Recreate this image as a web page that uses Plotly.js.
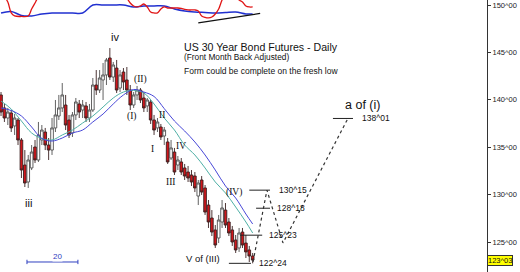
<!DOCTYPE html>
<html>
<head>
<meta charset="utf-8">
<script src="https://cdn.plot.ly/plotly-3.0.1.min.js"></script>
<style>
  html, body { margin: 0; padding: 0; background: #fff; }
  #chart { width: 520px; height: 272px; }
</style>
</head>
<body>
<div id="chart"></div>
<script>
// Daily bars (session index 0..74), prices in points
const openPx = [140.51,139.14,138.08,138.61,137.24,137.87,135.76,133.12,131.33,132.81,
  135.02,133.65,135.76,136.60,135.23,134.70,137.03,138.29,139.14,139.45,
  137.87,136.50,138.40,139.56,138.92,139.35,138.08,138.92,141.56,141.03,
  142.09,142.62,144.41,142.40,143.35,141.24,142.93,142.09,141.03,139.45,
  140.51,141.03,140.19,139.35,139.77,137.87,137.03,137.13,136.18,135.55,
  133.86,134.49,133.12,133.44,132.81,132.38,132.07,131.96,129.85,131.54,
  130.70,128.90,127.53,126.27,125.42,127.11,128.37,127.11,126.27,125.21,
  124.37,126.05,124.89,124.16,123.52];
const highPx = [140.82,139.56,139.14,138.92,138.50,138.08,135.97,134.70,134.18,135.23,
  135.76,137.66,137.34,137.03,135.97,138.08,139.98,140.51,141.77,140.51,
  138.40,138.71,140.19,139.98,139.98,139.77,139.56,142.30,143.14,143.14,
  143.88,144.41,145.46,143.99,144.20,143.14,143.35,143.46,141.56,140.82,
  141.46,141.24,140.82,140.19,139.98,138.40,138.08,137.45,137.13,135.97,
  135.76,134.92,134.07,133.86,133.23,133.02,132.59,132.38,131.54,131.96,
  131.01,129.43,128.37,126.79,127.85,129.43,129.11,127.53,126.69,125.74,
  126.48,126.48,125.74,124.58,123.84];
const lowPx = [138.29,137.66,137.34,136.60,136.29,135.23,131.75,130.80,130.70,132.59,
  133.33,133.44,135.23,134.70,133.65,134.18,136.60,137.87,138.71,136.81,
  135.97,136.08,137.87,138.08,138.08,137.66,137.66,138.71,140.51,140.72,
  139.98,141.56,142.09,141.88,140.72,140.82,141.03,140.51,138.92,139.14,
  139.98,139.66,138.71,138.71,137.45,136.29,136.60,135.76,135.23,133.23,
  133.65,132.07,132.59,132.07,131.54,131.33,130.91,130.27,128.90,129.96,
  127.85,126.48,125.63,124.37,124.89,126.48,126.48,125.63,124.58,123.84,
  123.95,124.37,123.31,122.89,122.75];
const closePx = [138.71,138.08,138.71,137.03,138.08,135.76,132.59,131.22,133.65,134.49,
  133.65,136.29,136.81,135.23,134.70,137.03,138.40,139.14,140.51,137.34,
  136.29,138.40,139.77,138.71,139.45,138.08,138.92,141.56,141.03,142.30,
  142.62,144.20,142.40,143.67,141.03,142.62,141.88,141.03,139.45,140.51,
  141.03,139.98,139.14,139.98,137.87,136.81,137.66,136.08,136.81,133.44,
  134.92,132.38,133.65,132.38,131.96,131.75,131.33,130.70,131.22,130.27,
  128.16,127.11,126.05,124.68,127.32,128.59,126.79,125.95,125.00,124.16,
  125.95,124.68,123.95,123.52,123.09375];

// Moving averages, sampled every third session
const maIdx = [0,3,6,9,12,15,18,21,24,27,30,33,36,39,42,45,48,51,54,57,60,63,66,69,72,74];
const maFast = [139.87,139.03,137.76,136.50,135.92,135.76,136.29,136.81,137.55,138.29,139.24,140.19,140.82,140.98,140.72,139.56,138.08,136.81,135.23,134.18,132.81,131.33,130.17,128.69,127.11,125.95];
const maSlow = [139.14,138.87,138.29,137.13,135.92,135.65,135.97,136.50,136.81,137.66,138.50,139.56,140.51,141.09,140.82,140.35,139.07,137.76,136.71,135.55,134.18,132.59,130.91,129.64,127.95,126.90];

// Oscillator pane (0..100 scale)
const oscBlue = [56.7,61.7,48.3,46.7,53.3,56.7,56.7,56.7,56.7,83.3,83.3,83.3,83.3,76.7,80,80,80,70,63.3,60,58.3,56.7,58.3,60,53.3,53.3];
const oscRedIdx = [0,2,3,4,6,8,9,10,11,14,20,26,32,36,37,38,39,40,41,42,43,44,45,46,47,48,49,50,51,52,53,54,55,56,57,58,59,60,61,62,63,64,65,66,67,68,69,70,71,72,73,74];
const oscRed = [130,93,56.7,46.7,45,46.7,70,90,110,140,150,145,140,125,107,90,80,76.7,80,86.7,76.7,60,56.7,56.7,70,76.7,73.3,73.3,73.3,73.3,71.7,68.3,66.7,66.7,66.7,63.3,46.7,41.7,40,43.3,53.3,70,100,117,117,117,110,100,93,80,76.7,76.7];
const oscTrendIdx = [58, 76.2];
const oscTrend = [23.3, 55];

// Price targets (decimal points) and the segments they are drawn over
const levelVals = [130.46875, 128.5625, 125.71875, 122.75, 138.03125];
const levelFrom = [73, 75, 70.3, 67, 97.6];
const levelTo = [79.1, 79.1, 76.8, 73.5, 103.5];
const levelLabelX = [81.2, 80.6, 78.2, 75.3, 105.6];

// Projected path
const pathIdx = [74.1, 78.2, 82.9, 102];
const pathPx = [122.9, 130.46875, 124.9, 138.03125];

// Axis ticks
const tickVals = [125, 130, 135, 140, 145, 150];

// Wave labels
const waveText = ['iv', '(II)', '(I)', 'II', 'iii', 'I', 'IV', 'III', '(IV)', 'V of (III)', 'a of (i)'];
const waveIdx = [33.5, 40.9, 38.5, 47.4, 8.2, 44.4, 52.9, 50, 68.5, 59.4, 106.2];
const wavePx = [146.62, 142.19, 138.29, 138.40, 129.11, 134.81, 135.13, 131.33, 130.27, 123.21, 139.45];
const waveSize = [11, 9.5, 9.5, 9.5, 11, 9.5, 9.5, 9.5, 9.5, 9.5, 12.5];
const waveSerif = [false, true, true, true, false, true, true, true, true, false, false];

function fmt32(v) {
  const whole = Math.floor(v + 1e-9);
  let t = Math.round((v - whole) * 32);
  return whole + '^' + String(t).padStart(2, '0');
}

const idx = closePx.map((_, i) => i);
const sansFont = 'Liberation Sans, Arial, sans-serif';
const serifFont = 'Liberation Serif, Times New Roman, serif';

const traces = [];

traces.push({
  type: 'candlestick', x: idx, open: openPx, high: highPx, low: lowPx, close: closePx,
  increasing: { line: { color: '#505050', width: 0.9 }, fillcolor: '#ffffff' },
  decreasing: { line: { color: '#3a2020', width: 0.9 }, fillcolor: '#d0161b' },
  whiskerwidth: 0, hoverinfo: 'skip', showlegend: false
});

traces.push({ type: 'scatter', mode: 'lines', x: maIdx, y: maFast,
  line: { color: '#4fb0a6', width: 1, shape: 'spline' }, hoverinfo: 'skip', showlegend: false });
traces.push({ type: 'scatter', mode: 'lines', x: maIdx, y: maSlow,
  line: { color: '#4848d8', width: 1, shape: 'spline' }, hoverinfo: 'skip', showlegend: false });

levelVals.forEach((v, k) => {
  traces.push({ type: 'scatter', mode: 'lines', x: [levelFrom[k], levelTo[k]], y: [v, v],
    line: { color: '#222', width: 1 }, hoverinfo: 'skip', showlegend: false });
});

traces.push({ type: 'scatter', mode: 'lines', x: pathIdx, y: pathPx,
  line: { color: '#333', width: 1.2, dash: 'dot' }, hoverinfo: 'skip', showlegend: false });

traces.push({ type: 'scatter', mode: 'lines', x: maIdx, y: oscBlue, yaxis: 'y2',
  line: { color: '#2030d0', width: 1.5, shape: 'spline' }, hoverinfo: 'skip', showlegend: false });
traces.push({ type: 'scatter', mode: 'lines', x: oscRedIdx, y: oscRed, yaxis: 'y2',
  line: { color: '#e01515', width: 1.3, shape: 'spline' }, hoverinfo: 'skip', showlegend: false });
traces.push({ type: 'scatter', mode: 'lines', x: oscTrendIdx, y: oscTrend, yaxis: 'y2',
  line: { color: '#111', width: 1.3 }, hoverinfo: 'skip', showlegend: false });

const annotations = [];

waveText.forEach((t, k) => {
  annotations.push({ x: waveIdx[k], y: wavePx[k], xref: 'x', yref: 'y', text: t, showarrow: false,
    font: { family: waveSerif[k] ? serifFont : sansFont, size: waveSize[k], color: '#111' } });
});

levelVals.forEach((v, k) => {
  annotations.push({ x: levelLabelX[k], y: v, xref: 'x', yref: 'y', text: fmt32(v), showarrow: false,
    xanchor: 'left', font: { family: sansFont, size: 8.5, color: '#111' } });
});

const lastClose = closePx[closePx.length - 1];
annotations.push({ x: 1, y: lastClose, xref: 'paper', yref: 'y', text: fmt32(lastClose), showarrow: false,
  xanchor: 'left', xshift: 0, bgcolor: '#ffff00', bordercolor: '#333', borderwidth: 1, borderpad: 0,
  font: { family: sansFont, size: 7.5, color: '#111' } });

annotations.push({ x: 0.3737, y: 0.8566, xref: 'paper', yref: 'paper', xanchor: 'left', showarrow: false,
  text: 'US 30 Year Bond Futures - Daily', font: { family: sansFont, size: 10.6, color: '#111' } });
annotations.push({ x: 0.3737, y: 0.818, xref: 'paper', yref: 'paper', xanchor: 'left', showarrow: false,
  text: '(Front Month Back Adjusted)', font: { family: sansFont, size: 8.3, color: '#111' } });
annotations.push({ x: 0.3737, y: 0.766, xref: 'paper', yref: 'paper', xanchor: 'left', showarrow: false,
  text: 'Form could be complete on the fresh low', font: { family: sansFont, size: 8.5, color: '#111' } });

// 20-bar ruler
annotations.push({ x: 0.107, y: 0.0368, xref: 'paper', yref: 'paper', showarrow: false, text: '20',
  bgcolor: '#ffffff', borderpad: 0, font: { family: sansFont, size: 8, color: '#3040c0' } });

const shapes = [
  { type: 'line', xref: 'paper', yref: 'paper', x0: 0.0554, x1: 0.160, y0: 0.0368, y1: 0.0368,
    line: { color: '#3040c0', width: 1 }, layer: 'below' },
  { type: 'line', xref: 'paper', yref: 'paper', x0: 0.0554, x1: 0.0554, y0: 0.029, y1: 0.045,
    line: { color: '#3040c0', width: 1 } },
  { type: 'line', xref: 'paper', yref: 'paper', x0: 0.160, x1: 0.160, y0: 0.029, y1: 0.045,
    line: { color: '#3040c0', width: 1 } }
];

const layout = {
  width: 520, height: 272,
  margin: { l: 0, r: 33, t: 0, b: 0, pad: 0 },
  paper_bgcolor: '#ffffff', plot_bgcolor: '#ffffff',
  showlegend: false,
  boxgap: 0.22, boxgroupgap: 0,
  xaxis: { range: [-0.3, 142.9], visible: false, rangeslider: { visible: false }, fixedrange: true },
  yaxis: {
    range: [121.835, 150.527], side: 'right', showgrid: false, zeroline: false,
    showline: true, linecolor: '#333', linewidth: 1,
    ticks: 'outside', ticklen: 3, tickcolor: '#333',
    tickvals: tickVals, ticktext: tickVals.map(fmt32),
    tickfont: { family: sansFont, size: 7.5, color: '#222' }, fixedrange: true
  },
  yaxis2: { domain: [0.89, 1], range: [0, 100], visible: false, anchor: 'x', fixedrange: true },
  annotations: annotations,
  shapes: shapes
};

Plotly.newPlot('chart', traces, layout, { displayModeBar: false, staticPlot: true });
</script>
</body>
</html>
